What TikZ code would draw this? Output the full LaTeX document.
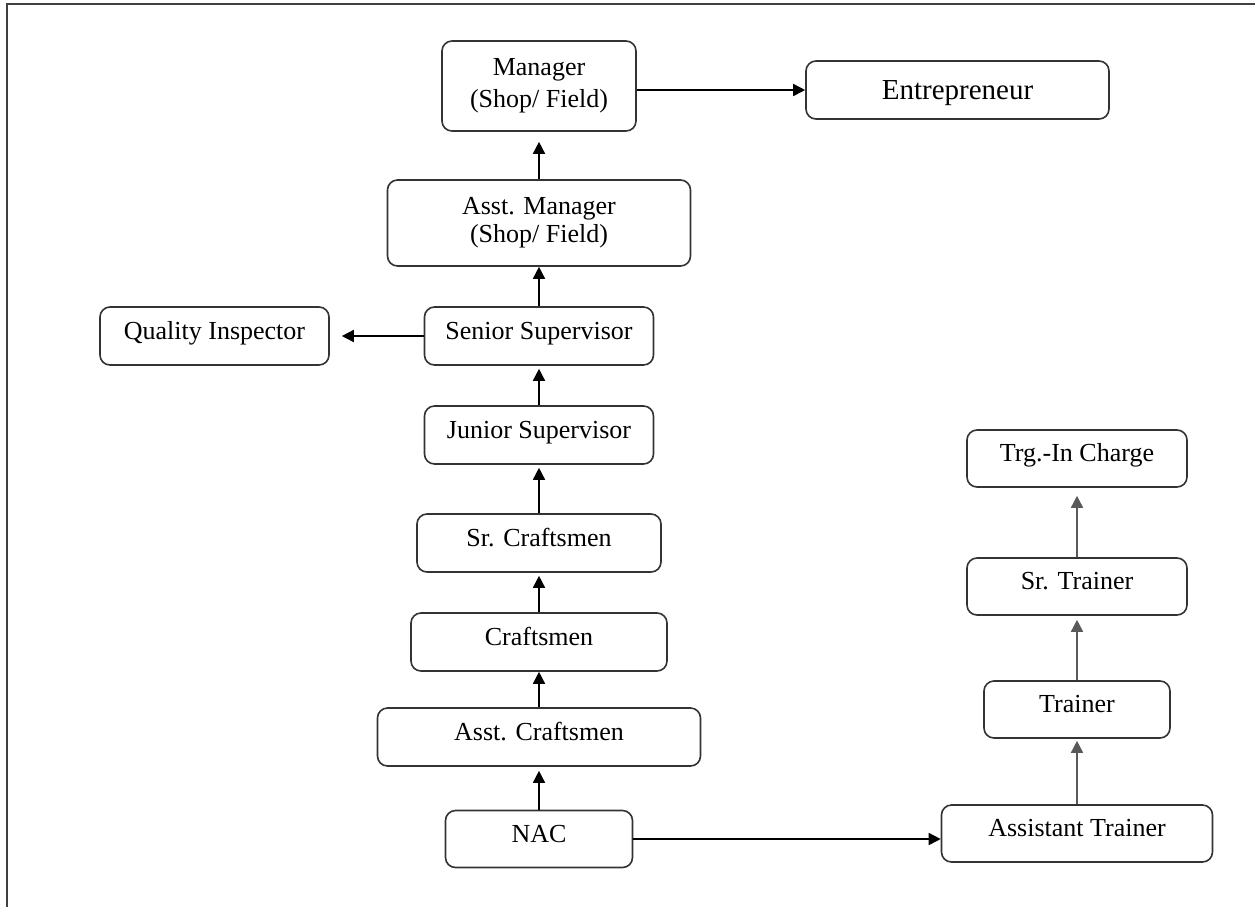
\documentclass[tikz,border=0pt]{standalone}
\usepackage{fontspec}
\setmainfont{Liberation Serif}
\usetikzlibrary{arrows.meta}

\tikzset{
  post/.style={draw=black!80, line width=0.8pt, rounded corners=5pt, fill=white,
    inner sep=0pt, font=\fontsize{13}{15}\selectfont},
  onerow/.style={post, text height=8pt, text depth=5pt, minimum height=29pt},
  up/.style={-{Triangle[length=6pt,width=6pt]}, line width=0.8pt},
  upgrey/.style={up, draw=black!65, fill=black!65},
}

\begin{document}
\begin{tikzpicture}[x=0.5pt,y=-0.5pt]
  \useasboundingbox (0,0) rectangle (1255,907);
  \draw[black!75, line width=1pt] (7,907) -- (7,4) -- (1255,4);

  \node[post, align=center, minimum width=97pt, minimum height=45pt] (mgr) at (539,86) {Manager\\[1pt](Shop/ Field)};
  \node[onerow, minimum width=151.5pt, font=\fontsize{14.5}{16}\selectfont, text height=10pt, text depth=1pt] (ent) at (957.5,90) {Entrepreneur};
  \node[post, align=center, minimum width=151.5pt, minimum height=43pt] (amgr) at (539,223) {Asst. Manager\\[-1pt](Shop/ Field)};
  \node[onerow, minimum width=114.5pt] (ssup) at (539,336) {Senior Supervisor};
  \node[onerow, minimum width=114.5pt] (qi) at (214.5,336) {Quality Inspector};
  \node[onerow, minimum width=114.5pt] (jsup) at (539,435) {Junior Supervisor};
  \node[onerow, minimum width=122pt] (scraft) at (539,543) {Sr. Craftsmen};
  \node[onerow, minimum width=128pt] (craft) at (539,642) {Craftsmen};
  \node[onerow, minimum width=161.5pt] (acraft) at (539,737) {Asst. Craftsmen};
  \node[onerow, minimum width=93.5pt, minimum height=28.5pt] (nac) at (539,839) {NAC};

  \node[onerow, minimum width=135.5pt, minimum height=28.5pt] (atr) at (1077,833.5) {Assistant Trainer};
  \node[onerow, minimum width=93pt, minimum height=28.5pt] (tr) at (1077,709.5) {Trainer};
  \node[onerow, minimum width=110pt, minimum height=28.5pt] (srtr) at (1077,586.5) {Sr. Trainer};
  \node[onerow, minimum width=110pt, minimum height=28.5pt] (tic) at (1077,458.5) {Trg.-In Charge};

  \draw[up] (mgr.east |- ent.west) -- (ent.west);
  \draw[up, shorten >=5pt] (amgr) -- (mgr);
  \draw[up] (ssup) -- (amgr);
  \draw[up, shorten >=6pt] (ssup) -- (qi);
  \draw[up, shorten >=1.5pt] (jsup) -- (ssup);
  \draw[up, shorten >=1.5pt] (scraft) -- (jsup);
  \draw[up, shorten >=1.5pt] (craft) -- (scraft);
  \draw[up] (acraft) -- (craft);
  \draw[up, shorten >=2pt] (nac) -- (acraft);
  \draw[up] (nac) -- (nac -| atr.west);

  \draw[upgrey, shorten >=1pt] (atr) -- (tr);
  \draw[upgrey, shorten >=2pt] (tr) -- (srtr);
  \draw[upgrey, shorten >=4pt] (srtr) -- (tic);
\end{tikzpicture}
\end{document}
